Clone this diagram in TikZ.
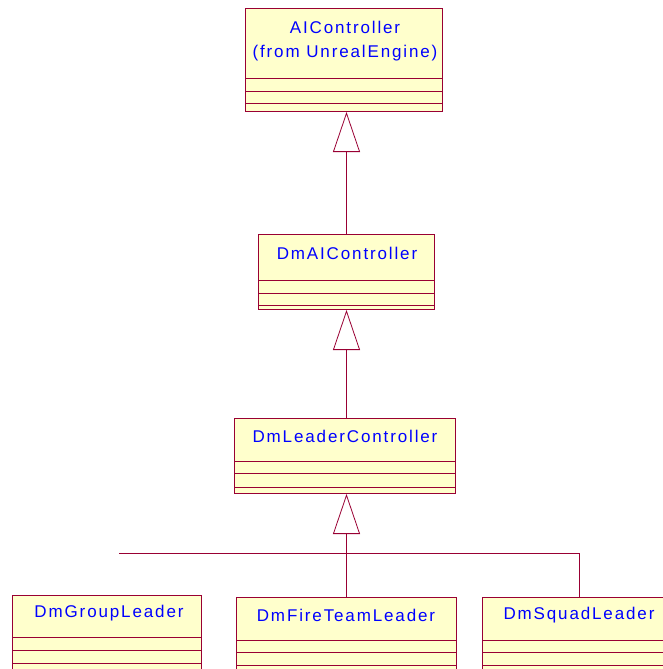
\documentclass[tikz,border=0pt]{standalone}
\usepackage{fontspec}
\setmainfont{Liberation Sans}[LetterSpace=11]
\usetikzlibrary{arrows.meta}
\definecolor{umlborder}{RGB}{153,0,51}
\definecolor{umlfill}{RGB}{255,255,204}
\definecolor{umltext}{RGB}{0,0,255}
\tikzset{
  cls/.style={draw=umlborder, fill=umlfill, line width=1pt, rectangle,
    anchor=north west, inner sep=0pt},
  sep/.style={draw=umlborder, line width=0.8pt},
  lbl/.style={text=umltext, font=\fontsize{17}{20}\selectfont, inner sep=0pt},
  gen/.style={draw=umlborder, line width=0.8pt,
    -{Triangle[open, length=40pt, width=27pt, line width=0.8pt]}},
  link/.style={draw=umlborder, line width=0.8pt}
}
\begin{document}
\begin{tikzpicture}[x=1pt, y=-1pt]
\useasboundingbox (0,0) rectangle (663,669);
\clip (0,0) rectangle (663,669);

% AIController
\node[cls, minimum width=197pt, minimum height=103pt] (ai) at (245,8) {};
\node[lbl] (aiN) at (345,27) {AIController};
\node[lbl] (aiF) at (345,53) {(from UnrealEngine)};
\foreach \yy in {78,91,103} \draw[sep] (245,\yy) -- (442,\yy);

% DmAIController
\node[cls, minimum width=176pt, minimum height=75pt] (dmai) at (258,234) {};
\node[lbl] (dmaiN) at (347,253) {DmAIController};
\foreach \yy in {280,293,305} \draw[sep] (258,\yy) -- (434,\yy);

% DmLeaderController
\node[cls, minimum width=221pt, minimum height=75pt] (lead) at (234,418) {};
\node[lbl] (leadN) at (345,436) {DmLeaderController};
\foreach \yy in {461,473,487} \draw[sep] (234,\yy) -- (455,\yy);

% subclasses
\node[cls, minimum width=189pt, minimum height=120pt] (group) at (12,595) {};
\node[lbl] (groupN) at (109,613) {DmGroupLeader};
\foreach \yy in {637,650,663} \draw[sep] (12,\yy) -- (201,\yy);

\node[cls, minimum width=220pt, minimum height=120pt] (fire) at (236,597) {};
\node[lbl] (fireN) at (346,615) {DmFireTeamLeader};
\foreach \yy in {640,652,665} \draw[sep] (236,\yy) -- (456,\yy);

\node[cls, minimum width=194pt, minimum height=120pt] (squad) at (482,597) {};
\node[lbl] (squadN) at (579,615) {DmSquadLeader};
\foreach \yy in {640,652,665} \draw[sep] (482,\yy) -- (676,\yy);

% generalisations
\draw[gen] (dmai.north) -- (dmai.north |- ai.south);
\draw[gen] (lead.north -| dmai.north) -- (dmai.south);
\draw[gen] (fire.north) -- (fire.north |- lead.south);

% shared bus of the inheritance tree
\coordinate (busL) at (119,553);
\draw[link] (busL) -- (squad.north |- busL) -- (squad.north);
\end{tikzpicture}
\end{document}
